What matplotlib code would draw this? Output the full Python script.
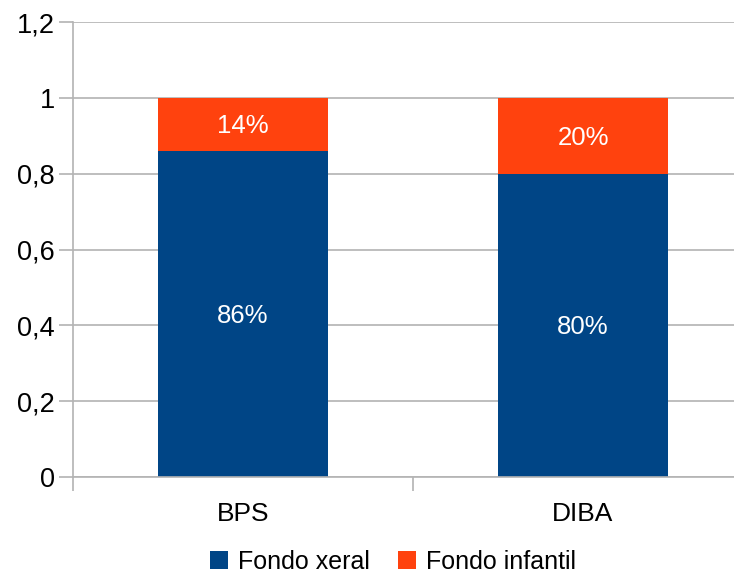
import matplotlib.pyplot as plt
import numpy as np

plt.rcParams['font.family'] = ['Liberation Sans', 'DejaVu Sans']

categories = ['BPS', 'DIBA']
fondo_xeral = [0.86, 0.80]
fondo_infantil = [0.14, 0.20]
yticks = [0, 0.2, 0.4, 0.6, 0.8, 1.0, 1.2]
ytick_labels = ['0', '0,2', '0,4', '0,6', '0,8', '1', '1,2']

blue = '#004586'
orange = '#ff420e'
grid_col = '#b3b3b3'

fig = plt.figure(figsize=(7.34, 5.74), dpi=100)
ax = fig.add_axes([73 / 734, 1 - 477 / 574, 680 / 734, 455 / 574])

x = np.arange(len(categories))
b1 = ax.bar(x, fondo_xeral, width=0.5, color=blue, label='Fondo xeral', zorder=2)
b2 = ax.bar(x, fondo_infantil, width=0.5, bottom=fondo_xeral, color=orange,
            label='Fondo infantil', zorder=2)

for bars, vals in ((b1, fondo_xeral), (b2, fondo_infantil)):
    for rect, v in zip(bars, vals):
        ax.text(rect.get_x() + rect.get_width() / 2, rect.get_y() + rect.get_height() / 2 - 0.005,
                f'{round(v * 100)}%', ha='center', va='center', color='white', fontsize=18.5)

ax.set_xlim(-0.5, 1.5)
ax.set_ylim(0, 1.2)
ax.set_yticks(yticks)
ax.set_yticklabels(ytick_labels, fontsize=19.5)
ax.yaxis.grid(True, color=grid_col, linewidth=1.2, zorder=0)

ax.set_xticks(x)
ax.set_xticklabels(categories, fontsize=19)
ax.tick_params(axis='x', length=0, pad=18)
ax.set_xticks([-0.5, 0.5, 1.5], minor=True)
ax.tick_params(axis='x', which='minor', length=10, color=grid_col, width=1.2)
ax.tick_params(axis='y', length=10, color=grid_col, width=1.2, pad=3)

for side in ('top', 'right'):
    ax.spines[side].set_visible(False)
for side in ('left', 'bottom'):
    ax.spines[side].set_color(grid_col)
    ax.spines[side].set_linewidth(1.2)

fig.legend(handles=[b1, b2], loc='center', bbox_to_anchor=(393 / 734, 1 - 562 / 574),
           ncol=2, frameon=False, fontsize=18, handlelength=0.75, handleheight=0.75,
           handletextpad=0.4, columnspacing=1.1)

fig.savefig('out.png', dpi=100)
